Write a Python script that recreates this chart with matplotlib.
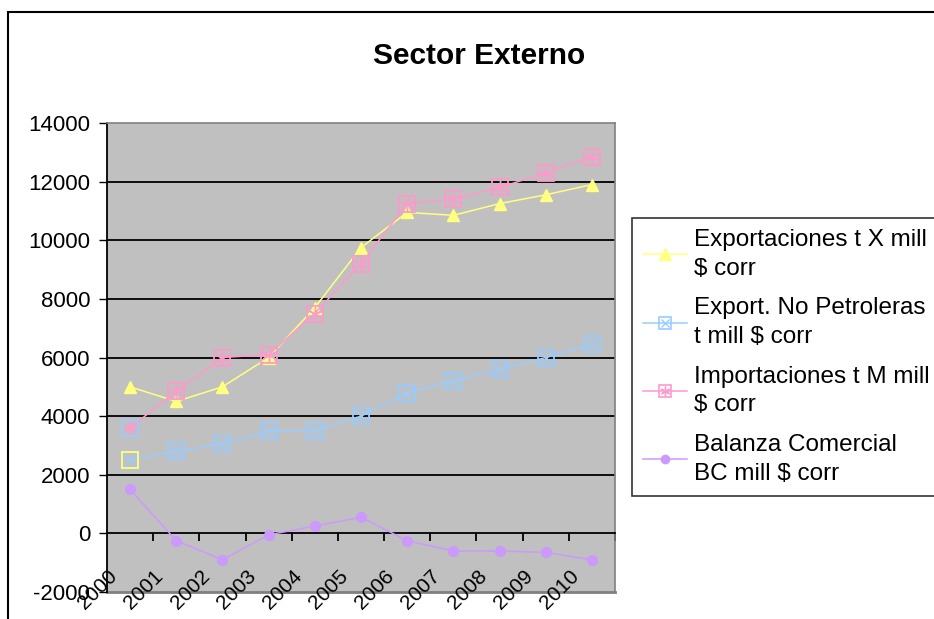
import matplotlib
matplotlib.use("Agg")
import matplotlib.pyplot as plt
from matplotlib.lines import Line2D
from matplotlib.legend_handler import HandlerTuple
from matplotlib.patches import Rectangle
import matplotlib.transforms as mtransforms

plt.rcParams['font.family'] = ['Liberation Sans', 'DejaVu Sans']
plt.rcParams['axes.unicode_minus'] = False

years = ["2000", "2001", "2002", "2003", "2004", "2005", "2006", "2007", "2008", "2009", "2010"]
exportaciones = [5000, 4500, 5000, 6000, 7700, 9750, 10950, 10850, 11250, 11550, 11900]
export_no_petroleras = [2500, 2800, 3050, 3500, 3500, 4000, 4800, 5200, 5600, 6000, 6450]
importaciones = [3600, 4850, 6000, 6100, 7500, 9200, 11250, 11400, 11800, 12300, 12850]
balanza = [1500, -250, -900, -50, 250, 550, -250, -600, -600, -650, -900]

labels = ["Exportaciones t X mill\n\\$ corr",
          "Export. No Petroleras\nt mill \\$ corr",
          "Importaciones t M mill\n\\$ corr",
          "Balanza Comercial\nBC mill \\$ corr"]

c_yel = "#FFFF80"
c_blu = "#99CCFF"
c_pnk = "#FF99CC"
c_pur = "#CC99FF"

W, H = 934, 619
fig = plt.figure(figsize=(W / 100, H / 100), dpi=100)
ax = fig.add_axes([107 / W, 1 - 592 / H, (615 - 107) / W, (592 - 123) / H])
ax.set_facecolor("#C0C0C0")

x = list(range(len(years)))
lw = 1.1

ax.plot(x, exportaciones, color=c_yel, lw=lw, marker="^", ms=9, mfc=c_yel, mec=c_yel, zorder=3)
ax.plot(x, export_no_petroleras, color=c_blu, lw=lw, zorder=3)
ax.plot(x, export_no_petroleras, ls="none", marker="s", ms=11, mfc="none", mec=c_blu, mew=1.3, zorder=4)
ax.plot(x, export_no_petroleras, ls="none", marker="x", ms=9, mec=c_blu, mew=1.0, zorder=4)
ax.plot(x, importaciones, color=c_pnk, lw=lw, zorder=3)
ax.plot(x, importaciones, ls="none", marker="s", ms=11, mfc="none", mec=c_pnk, mew=1.3, zorder=4)
ax.plot(x, importaciones, ls="none", marker=(6, 2, 0), ms=10, mec=c_pnk, mew=1.0, zorder=4)
ax.plot(x, balanza, color=c_pur, lw=lw, marker="o", ms=7, mfc=c_pur, mec=c_pur, zorder=3)
# first-point marker quirks
ax.plot(x[:1], export_no_petroleras[:1], ls="none", marker="s", ms=11, mfc="none", mec=c_yel, mew=1.3, zorder=5)
ax.plot(x[:1], importaciones[:1], ls="none", marker="s", ms=11, mfc="none", mec=c_blu, mew=1.3, zorder=5)

ax.set_xlim(-0.5, len(years) - 0.5)
ax.set_ylim(-2000, 14000)
ax.set_yticks(range(-2000, 14001, 2000))
ax.tick_params(axis="y", labelsize=16, length=6, width=1, pad=6, color="black")
for v in range(2000, 13000, 2000):
    ax.axhline(v, color="black", lw=1.3, zorder=1)

for s in ["top", "right"]:
    ax.spines[s].set_color("#808080")
    ax.spines[s].set_linewidth(1.2)
ax.spines["left"].set_color("black")
ax.spines["left"].set_linewidth(1.3)
ax.spines["bottom"].set_position(("data", 0))
ax.spines["bottom"].set_color("black")
ax.spines["bottom"].set_linewidth(1.3)
ax.axhline(-2000, color="#808080", lw=2, zorder=1, clip_on=False)

ax.set_xticks([i + 0.5 for i in x])
ax.set_xticklabels([])
ax.tick_params(axis="x", length=6, width=1.3, direction="out", color="black")

trans = mtransforms.blended_transform_factory(ax.transData, ax.transAxes)
for i, lab in enumerate(years):
    ax.text(i - 0.2, 0.055, lab, transform=trans, rotation=45, ha="right", va="top",
            fontsize=15, clip_on=False, zorder=6)

fig.text(479 / W, 1 - 56 / H, "Sector Externo", ha="center", va="center", fontsize=21.5, fontweight="bold")

# figure border
fig.patches.append(Rectangle((8 / W, -0.1), 1.2, 1 - 12 / H + 0.1, transform=fig.transFigure,
                             fill=False, edgecolor="black", lw=1.5, clip_on=False))

h1 = Line2D([], [], color=c_yel, lw=lw, marker="^", ms=8, mfc=c_yel, mec=c_yel)
h2 = (Line2D([], [], color=c_blu, lw=lw, marker="s", ms=8, mfc="none", mec=c_blu, mew=1.2),
      Line2D([], [], ls="none", marker="x", ms=6, mec=c_blu, mew=1.0))
h3 = (Line2D([], [], color=c_pnk, lw=lw, marker="s", ms=8, mfc="none", mec=c_pnk, mew=1.2),
      Line2D([], [], ls="none", marker=(6, 2, 0), ms=7, mec=c_pnk, mew=1.0))
h4 = Line2D([], [], color=c_pur, lw=lw, marker="o", ms=6, mfc=c_pur, mec=c_pur)

leg = fig.legend([h1, h2, h3, h4], labels, loc="upper left",
                 bbox_to_anchor=(632 / W, 1 - 218 / H), borderaxespad=0,
                 fontsize=17.5, frameon=True, fancybox=False, edgecolor="black",
                 handlelength=1.8, handletextpad=0.3, labelspacing=0.72, borderpad=0.45,
                 handler_map={tuple: HandlerTuple(ndivide=1)})
for t in leg.get_texts():
    t.set_linespacing(1.4)
leg.get_frame().set_linewidth(1.2)

fig.savefig("out.png", dpi=100)
